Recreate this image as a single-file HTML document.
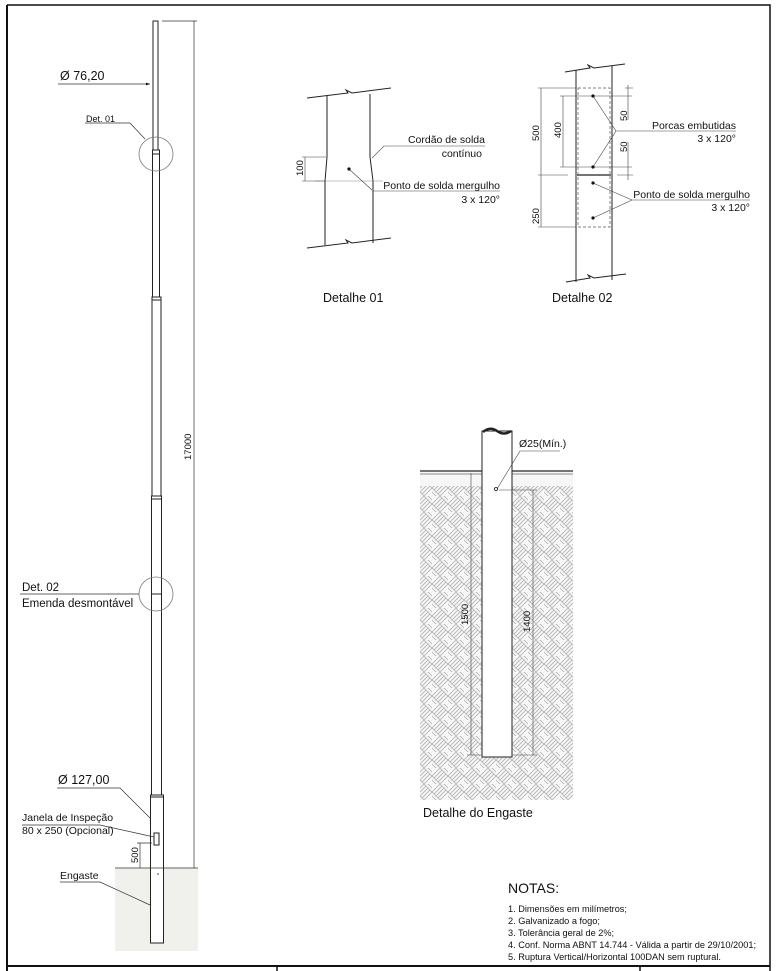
<!DOCTYPE html>
<html><head><meta charset="utf-8"><style>
html,body{margin:0;padding:0;background:#fff}
svg{display:block}
text{font-family:"Liberation Sans",sans-serif;fill:#111}
</style></head><body>
<svg width="780" height="971" viewBox="0 0 780 971" xmlns="http://www.w3.org/2000/svg">
<defs>
<pattern id="hb" width="16" height="16" patternUnits="userSpaceOnUse">
<rect width="16" height="16" fill="#f8f8f8"/>
<path d="M0 8 L8 0 M2 10 L10 2 M4 12 L12 4 M8 16 L16 8 M6 14 L14 6 M8 0 L16 8 M10 -2 L18 6 M0 8 L8 16 M-2 10 L6 18" stroke="#b8b8b8" stroke-width="0.9" fill="none"/>
</pattern>
<marker id="ar" markerWidth="6" markerHeight="6" refX="6" refY="3" orient="auto"><path d="M0 1 L6 3 L0 5z" fill="#111"/></marker>
</defs>
<!-- border -->
<g stroke="#111" fill="none">
<path d="M7 5 H770 V971" stroke-width="1.5"/>
<path d="M7 5 V971" stroke-width="2"/>
<path d="M7 966 H770" stroke-width="2"/>
<path d="M277 966 V971 M640 966 V971" stroke-width="1.5"/>
</g>
<!-- main pole -->
<rect x="115" y="868" width="83" height="83" fill="#f0f0ec"/>
<g stroke="#222" stroke-width="1" fill="#fff">
<rect x="153" y="21" width="5" height="130"/>
<rect x="152.5" y="150" width="7" height="148"/>
<rect x="152" y="297" width="9" height="200"/>
<rect x="151.5" y="496" width="10" height="299"/>
<rect x="150.5" y="795" width="13" height="148"/>
<path d="M152.5 154 H159.5 M152 300 H161 M151.5 499 H161.5 M151 797 H164 M152 594 H161"/>
<rect x="154" y="833" width="5" height="12"/>
</g>
<g stroke="#777" fill="none" stroke-width="0.8">
<circle cx="156" cy="154" r="17"/>
<circle cx="156" cy="594" r="17"/>
</g>
<g stroke="#333" stroke-width="0.7" fill="none">
<path d="M162 21 H197 M194 21 V868"/>
<path d="M115 868 H198"/>
<path d="M58 84 H150" marker-end="url(#ar)"/>
<path d="M85 123 H130 L145 139"/>
<path d="M20 594 H139"/>
<path d="M57 788 H120 L150 818"/>
<path d="M22 825 H100 L154 837"/>
<path d="M140 843 V868 M137 843 H152"/>
<path d="M60 882 H100 L150 905"/>
</g>
<circle cx="158" cy="874" r="0.8" fill="#333"/>
<text x="60" y="80" font-size="12.5">Ø 76,20</text>
<text x="86" y="122" font-size="9">Det. 01</text>
<text x="22" y="591" font-size="11.5">Det. 02</text>
<text x="22" y="607" font-size="11.5">Emenda desmontável</text>
<text x="58" y="784" font-size="12.5">Ø 127,00</text>
<text x="22" y="821" font-size="10.5">Janela de Inspeção</text>
<text x="22" y="834" font-size="10.5">80 x 250 (Opcional)</text>
<text x="60" y="879" font-size="10.5">Engaste</text>
<text transform="translate(138,863) rotate(-90)" font-size="9.5">500</text>
<text transform="translate(191,460) rotate(-90)" font-size="9.5">17000</text>

<!-- Detalhe 01 -->
<g stroke="#222" stroke-width="1" fill="none">
<path d="M307 98 L348 93 L346 90 L352 93 L391 88"/>
<path d="M307 248 L348 243 L346 240 L352 243 L391 238"/>
<path d="M327 96 V157 L325 181 V245"/>
<path d="M370 94 V157 L373 181 V243"/>
<path d="M315 181 H383" stroke="#888" stroke-width="0.6"/>
</g>
<g stroke="#444" stroke-width="0.6" fill="none">
<path d="M305 157 V181 M302 157 H326 M302 181 H326"/>
<path d="M349 169 L372 190 M373 191 H500"/>
<path d="M372 158 L384 146 H485"/>
</g>
<circle cx="349" cy="169" r="1.6" fill="#111"/>
<text transform="translate(303,176) rotate(-90)" font-size="9.5">100</text>
<text x="485" y="143" font-size="10.5" text-anchor="end">Cordão de solda</text>
<text x="482" y="157" font-size="10.5" text-anchor="end">contínuo</text>
<text x="500" y="189" font-size="10.5" text-anchor="end">Ponto de solda mergulho</text>
<text x="500" y="203" font-size="10.5" text-anchor="end">3 x 120°</text>
<text x="323" y="302" font-size="12.5">Detalhe 01</text>

<!-- Detalhe 02 -->
<g stroke="#222" stroke-width="1" fill="none">
<path d="M565 72 L590 68 L588 65 L594 68 L625 64"/>
<path d="M566 282 L590 278 L588 275 L594 278 L626 274"/>
<path d="M576 70 V282 M612 66 V280"/>
<path d="M577 175 H611" stroke-width="1.3"/>
<rect x="578" y="88" width="32" height="139" stroke="#555" stroke-width="0.7" stroke-dasharray="3,2"/>
</g>
<g stroke="#444" stroke-width="0.6" fill="none">
<path d="M541 88 V227 M538 88 H576 M538 175 H568 M538 227 H576"/>
<path d="M563 96 V167 M560 96 H632 M560 167 H632"/>
<path d="M628 88 V96 M628 167 V175 M625 88 H633 M617 175 H633 M628 85 V120 M628 142 V180"/>
<path d="M593 96 L616 131 L593 167 M616 131 H736"/>
<path d="M593 183 L632 200 L593 218 M632 200 H750"/>
</g>
<g fill="#111"><circle cx="593" cy="96" r="1.6"/><circle cx="593" cy="167" r="1.6"/><circle cx="593" cy="183" r="1.6"/><circle cx="593" cy="218" r="1.6"/></g>
<text transform="translate(539,141) rotate(-90)" font-size="9.5">500</text>
<text transform="translate(561,138) rotate(-90)" font-size="9.5">400</text>
<text transform="translate(627,121) rotate(-90)" font-size="9.5">50</text>
<text transform="translate(627,152) rotate(-90)" font-size="9.5">50</text>
<text transform="translate(539,224) rotate(-90)" font-size="9.5">250</text>
<text x="736" y="129" font-size="10.5" text-anchor="end">Porcas embutidas</text>
<text x="736" y="142" font-size="10.5" text-anchor="end">3 x 120°</text>
<text x="750" y="198" font-size="10.5" text-anchor="end">Ponto de solda mergulho</text>
<text x="750" y="211" font-size="10.5" text-anchor="end">3 x 120°</text>
<text x="552" y="302" font-size="12.5">Detalhe 02</text>

<!-- Engaste -->
<rect x="420" y="475" width="153" height="325" fill="url(#hb)"/>
<rect x="420" y="472" width="153" height="14" fill="#f6f6f6"/>
<g stroke="#222" fill="none">
<path d="M420 471 H573" stroke-width="1.2"/>
<path d="M420 474 H573" stroke-width="0.5"/>
<rect x="482" y="431" width="30" height="326" fill="#fff" stroke-width="1"/>
<path d="M483 432 Q490 426 497 431 Q504 436 511 431" stroke-width="2.5"/>
</g>
<g stroke="#444" stroke-width="0.6" fill="none">
<path d="M471 473 V755 M467 755 H482"/>
<path d="M533 490 V755 M499 490 H537 M512 755 H537"/>
<path d="M497 489 L520 451 H560"/>
</g>
<circle cx="496" cy="489" r="1.5" fill="#fff" stroke="#111" stroke-width="0.8"/>
<text x="519" y="447" font-size="10.5">Ø25(Mín.)</text>
<text transform="translate(468,625) rotate(-90)" font-size="9.5">1500</text>
<text transform="translate(530,632) rotate(-90)" font-size="9.5">1400</text>
<text x="423" y="817" font-size="12.5">Detalhe do Engaste</text>

<!-- Notas -->
<text x="508" y="893" font-size="14">NOTAS:</text>
<text x="508" y="912" font-size="9.2">1. Dimensões em milímetros;</text>
<text x="508" y="924" font-size="9.2">2. Galvanizado a fogo;</text>
<text x="508" y="936" font-size="9.2">3. Tolerância geral de 2%;</text>
<text x="508" y="948" font-size="9.2">4. Conf. Norma ABNT 14.744 - Válida a partir de 29/10/2001;</text>
<text x="508" y="960" font-size="9.2">5. Ruptura Vertical/Horizontal 100DAN sem ruptural.</text>
</svg>
</body></html>
